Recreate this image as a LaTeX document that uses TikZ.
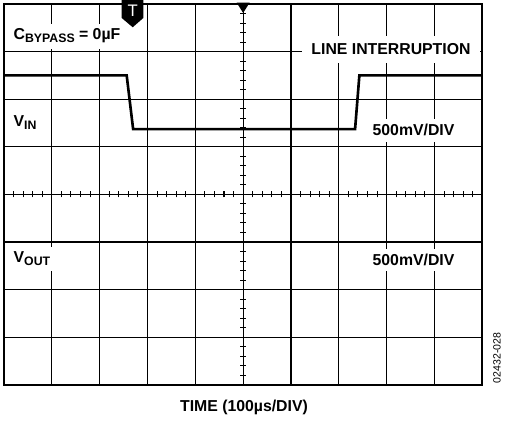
\documentclass[tikz,border=0pt]{standalone}
\usepackage{fontspec}
\setmainfont{Liberation Sans}
\usetikzlibrary{positioning}
\newcommand{\sgsub}[1]{\raisebox{-0.35ex}{\fontsize{7}{8}\selectfont #1}}

\begin{document}
\begin{tikzpicture}[x=0.9566cm, y=0.952cm,
  gridline/.style={line width=0.6pt},
  trace/.style={line width=1.5pt, line join=miter},
  tag/.style={fill=white, inner sep=3pt, font=\fontsize{9}{11}\selectfont\bfseries}]
  \useasboundingbox (-0.0836,-0.7563) rectangle (10.4746,8.084);

  % Graticule
  \foreach \i in {1,...,9} \draw[gridline] (\i,0) -- (\i,8);
  \foreach \j in {1,...,7} \draw[gridline] (0,\j) -- (10,\j);
  \foreach \t in {0.2,0.4,...,9.9} \draw[gridline] (\t,3.937) -- (\t,4.063);
  \foreach \t in {0.2,0.4,...,7.9} \draw[gridline] (4.937,\t) -- (5.063,\t);
  \draw[line width=1.1pt] (0,0) rectangle (10,8);

  % Traces
  \draw[trace] (0,6.5) -- (2.565,6.5) -- (2.70,5.37) -- (7.34,5.37) -- (7.43,6.5) -- (10,6.5);
  \draw[trace] (0,3) -- (10,3);

  % Markers
  \fill (4.864,8.03) -- (5.136,8.03) -- (5,7.811) -- cycle;
  \fill (2.461,8.084) -- (2.913,8.084) -- (2.913,7.706) -- (2.691,7.511) -- (2.461,7.706) -- cycle;
  \node[text=white, inner sep=0pt, font=\fontsize{9.5}{11}\selectfont] (trig) at (2.691,7.863) {T};

  % Labels
  \node[tag, anchor=base west] (cbyp) at (0.084,7.244) {C\sgsub{BYPASS} = 0µF};
  \node[tag, anchor=base, inner xsep=5.5pt, inner ysep=4.5pt] (lint) at (8.091,6.929) {LINE INTERRUPTION};
  \node[tag, anchor=base west] (vin) at (0.084,5.426) {V\sgsub{IN}};
  \node[tag, anchor=base] (vindiv) at (8.562,5.227) {500mV/DIV};
  \node[tag, anchor=base west] (vout) at (0.084,2.565) {V\sgsub{OUT}};
  \node[tag, anchor=base] (voutdiv) at (8.562,2.502) {500mV/DIV};
  \node[tag, anchor=base] (time) at (5.018,-0.56) {TIME (100µs/DIV)};
  \node[rotate=90, inner sep=0pt, font=\fontsize{6}{7}\selectfont] (fig) at (10.307,0.567) {02432-028};
\end{tikzpicture}
\end{document}
